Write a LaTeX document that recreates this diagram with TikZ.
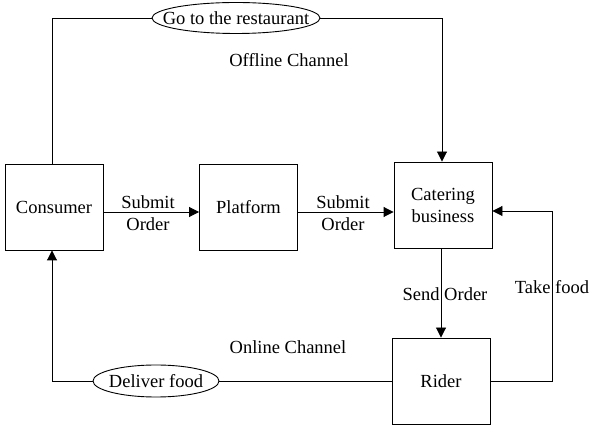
\documentclass[tikz,border=0pt]{standalone}
\usepackage{fontspec}
\setmainfont{Liberation Serif}
\usetikzlibrary{arrows.meta,shapes.geometric}
\begin{document}
\begin{tikzpicture}[x=1pt,y=-1pt,
  font=\fontsize{18.5}{22}\selectfont,
  line width=0.9pt,
  box/.style={draw, rectangle, minimum width=98pt, minimum height=86pt, inner sep=0pt, align=center},
  oval/.style={draw, ellipse, inner sep=0pt},
  lbl/.style={inner sep=0pt, align=center},
  arr/.style={-{Triangle[length=10pt,width=10pt]}}]
\useasboundingbox (0,0) rectangle (589,427);
\node[box] (consumer) at (54,207) {Consumer};
\node[box] (platform) at (248.5,207) {Platform};
\node[box] (catering) at (443,205) {Catering\\business};
\node[box] (rider) at (441,381) {Rider};
\node[oval, minimum width=168pt, minimum height=31pt] (goto) at (236,18) {\makebox[0pt]{Go to the restaurant}};
\node[oval, minimum width=126pt, minimum height=32pt] (deliver) at (156,381) {\makebox[0pt]{Deliver food}};
\node[lbl] (so1) at (148,213) {Submit\\Order};
\node[lbl] (so2) at (343,213) {Submit\\Order};
\node[lbl] (off) at (289,60) {Offline Channel};
\node[lbl] (on) at (288,347) {Online Channel};
\node[lbl] (send) at (445,294) {Send Order};
\node[lbl] (take) at (552,287) {Take food};
\coordinate (ya) at (0,212);
\coordinate (rc) at (552,0);
\coordinate (catin) at ([yshift=-6pt]catering.east);
% top loop
\draw ([xshift=-2pt]consumer.north) |- (goto.west);
\draw[arr] (goto.east) -| ([xshift=-1pt]catering.north);
% submit arrows
\draw[arr] (consumer.east |- ya) -- (platform.west |- ya);
\draw[arr] (platform.east |- ya) -- (catering.west |- ya);
% send order
\draw[arr] ([xshift=-2pt]catering.south) -- (rider.north);
% take food
\draw[arr] (rider.east) -- (rider.east -| rc) -- (rc |- catin) -- (catin);
% bottom loop
\draw (rider.west) -- (deliver.east);
\draw[arr] (deliver.west) -| ([xshift=-2pt]consumer.south);
\end{tikzpicture}
\end{document}
